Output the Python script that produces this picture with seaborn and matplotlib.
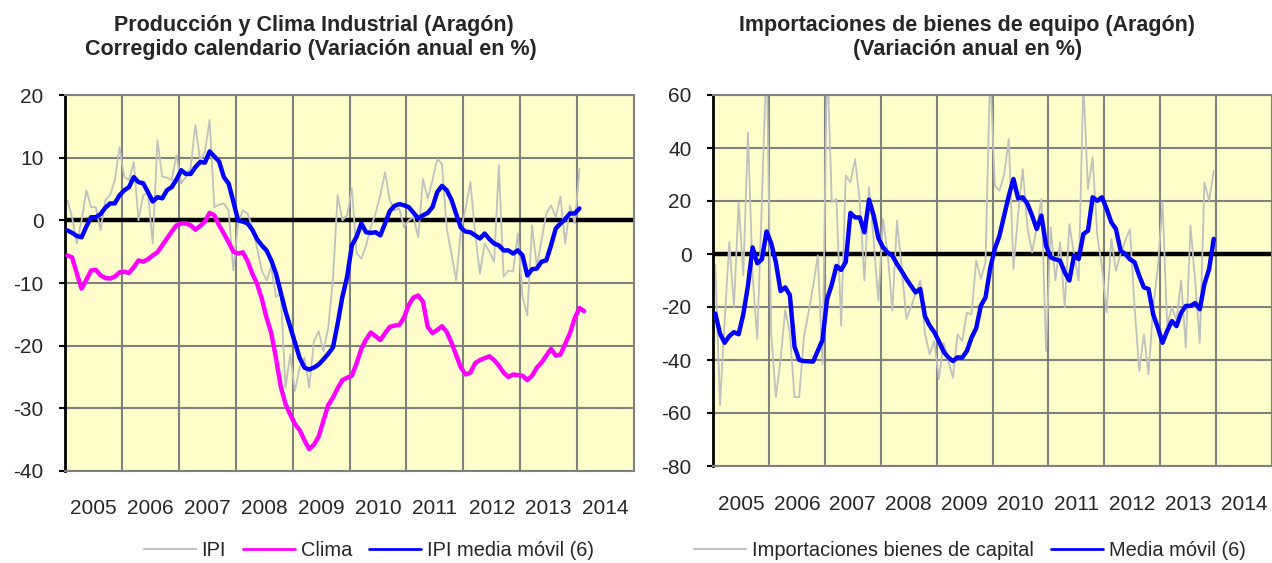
import numpy as np
import pandas as pd
import matplotlib
matplotlib.use("Agg")
import matplotlib.pyplot as plt
import seaborn as sns
from matplotlib.lines import Line2D

# ---------------- DATA ----------------
years = [2005, 2006, 2007, 2008, 2009, 2010, 2011, 2012, 2013, 2014]

ipi = [3.2, 0.5, -3.7, 0.0, 4.8, 2.1, 2.1, -1.6, 3.2, 4.0, 6.4, 11.7,
       6.9, 6.4, 9.3, 0.0, 4.0, 4.3, -3.7, 12.8, 7.0, 6.8, 6.4, 10.4,
       5.9, 6.9, 8.5, 15.2, 9.6, 10.9, 16.0, 2.1, 2.5, 2.7, 1.6, -8.0,
       -0.5, 1.6, 1.1, -1.0, -4.3, -8.0, -9.6, -7.4, -12.2, -11.7, -26.7, -21.4,
       -27.2, -23.5, -21.9, -26.7, -19.3, -17.7, -20.9, -17.2, -9.6, 4.0, 0.0, 0.8,
       5.1, -5.3, -6.1, -4.0, -1.1, 1.1, 4.0, 7.7, 3.2, 1.6, 1.9, -1.1,
       0.0, 0.5, -2.7, 6.6, 3.5, 6.4, 9.8, 9.0, -1.3, -5.3, -9.6, -1.6,
       2.0, 6.1, -2.1, -8.5, -3.7, -5.0, -6.6, 8.8, -9.0, -8.0, -8.2, -2.1,
       -12.2, -15.2, -0.8, -7.4, -3.2, 1.1, 2.4, 0.5, 3.8, -3.7, 2.4, -0.5,
       8.2]

clima = [-5.6, -5.9, -8.5, -10.9, -9.5, -8.0, -7.9, -8.8, -9.2, -9.3, -9.0, -8.3,
         -8.2, -8.4, -7.5, -6.4, -6.6, -6.2, -5.6, -5.1, -4.0, -2.9, -1.8, -0.8,
         -0.5, -0.5, -0.8, -1.5, -0.9, -0.2, 1.2, 0.8, -0.8, -2.1, -3.5, -5.0,
         -5.3, -5.1, -6.5, -8.5, -10.1, -12.5, -15.5, -18.0, -22.0, -26.5, -29.3, -31.0,
         -32.5, -33.5, -35.1, -36.5, -35.8, -34.5, -32.0, -29.5, -28.3, -26.8, -25.5, -25.1,
         -24.8, -22.8, -20.5, -19.0, -17.9, -18.5, -19.1, -18.0, -17.0, -16.8, -16.7, -15.5,
         -13.5, -12.3, -12.0, -13.0, -17.0, -18.0, -17.5, -16.9, -17.8, -19.5, -21.5, -23.5,
         -24.6, -24.3, -22.8, -22.3, -22.0, -21.7, -22.3, -23.2, -24.3, -25.0, -24.6, -24.7,
         -24.8, -25.5, -24.8, -23.5, -22.7, -21.6, -20.5, -21.6, -21.4, -19.7, -18.0, -15.6,
         -14.0, -14.5]

ipi_mm6 = [-1.6, -2.0, -2.5, -2.7, -1.0, 0.5, 0.5, 1.0, 2.0, 2.7, 2.7, 4.0,
           4.8, 5.3, 6.9, 6.1, 5.9, 4.5, 3.0, 3.7, 3.5, 4.8, 5.3, 6.5,
           8.0, 7.4, 7.4, 8.5, 9.3, 9.2, 11.0, 10.2, 9.4, 6.9, 5.9, 3.0,
           0.0, -0.2, -0.5, -1.5, -3.0, -4.0, -4.8, -6.4, -8.5, -11.5, -14.5, -17.0,
           -19.5, -22.0, -23.5, -23.8, -23.5, -23.0, -22.2, -21.3, -20.3, -16.5, -12.2, -9.0,
           -4.0, -2.6, -0.5, -1.9, -2.0, -1.9, -2.4, -0.5, 1.5, 2.3, 2.6, 2.4,
           2.1, 1.2, 0.3, 0.8, 1.2, 2.1, 4.5, 5.5, 4.8, 3.3, 1.0, -1.2,
           -1.8, -1.9, -2.4, -2.9, -2.1, -3.0, -3.7, -4.0, -4.8, -4.8, -5.3, -4.8,
           -5.6, -8.8, -7.8, -7.7, -6.6, -6.4, -4.0, -1.3, -0.5, 0.2, 1.1, 1.1,
           1.9]

imp = [-4.0, -57.0, -25.0, 4.4, -20.0, 19.5, -8.0, 45.9, -8.0, -32.0, 20.0, 75.0,
       -30.0, -54.0, -40.0, -21.0, -30.0, -54.0, -54.0, -31.6, -22.0, -12.0, -0.6, -41.6,
       75.0, 19.5, 20.8, -27.0, 29.6, 27.0, 35.8, 20.0, -10.0, 25.2, 5.0, -17.6,
       13.2, 0.0, -21.4, 12.6, -5.0, -24.5, -20.0, -15.0, -10.0, -30.0, -37.9, -32.8,
       -47.3, -33.5, -40.0, -46.7, -30.3, -32.8, -22.1, -22.8, -2.5, -9.4, -3.1, 70.0,
       25.8, 23.9, 30.0, 43.4, -5.7, 15.0, 32.0, 10.0, 0.6, 10.0, 20.8, -36.6,
       10.0, -10.0, 4.4, -20.1, 11.3, 0.0, -10.0, 65.0, 24.5, 36.5, 6.9, -5.0,
       -22.0, 5.7, -6.3, 0.0, 5.0, 9.4, -20.0, -44.2, -30.3, -45.4, -20.0, -5.0,
       19.5, -27.0, -20.0, -25.0, -10.0, -35.3, 10.7, -10.0, -33.5, 27.0, 20.1, 31.4]

imp_mm6 = [-22.5, -30.0, -33.5, -31.0, -29.5, -30.3, -22.8, -12.0, 2.5, -3.5, -2.0, 8.5,
           4.0, -3.1, -14.0, -12.6, -15.5, -35.0, -40.0, -40.4, -40.5, -40.6, -36.5, -32.5,
           -17.0, -11.5, -4.5, -6.0, -3.0, 15.5, 13.8, 13.8, 8.2, 20.5, 14.5, 6.0,
           2.5, 0.5, -0.6, -3.8, -6.5, -9.4, -12.0, -14.5, -13.2, -23.5, -27.0, -29.5,
           -33.0, -36.8, -39.0, -40.4, -39.0, -39.1, -36.6, -31.6, -28.0, -19.5, -16.4, -5.5,
           2.0, 6.9, 14.5, 22.0, 28.3, 21.0, 21.4, 18.9, 14.5, 9.4, 14.5, 3.1,
           -1.3, -2.0, -2.5, -6.9, -10.0, -0.6, -1.9, 7.5, 8.8, 21.4, 20.1, 21.4,
           17.0, 12.0, 9.4, 1.3, 0.0, -2.0, -3.1, -8.2, -12.6, -13.2, -22.8, -27.8,
           -33.5, -29.0, -25.3, -27.2, -22.1, -19.6, -19.6, -18.5, -20.8, -11.3, -5.7, 5.7]


def month_pos(n):
    # mid-month position in fractional years, starting January 2005
    return [years[0] + (m + 0.5) / 12.0 for m in range(n)]


df_left = pd.DataFrame({"t": month_pos(len(clima))})
df_left["IPI"] = pd.Series(ipi)
df_left["Clima"] = pd.Series(clima)
df_left["MM"] = pd.Series(ipi_mm6)

df_right = pd.DataFrame({"t": month_pos(len(imp)), "IMP": imp, "MM": imp_mm6})

# ---------------- STYLE ----------------
sns.set_theme(style="white")
plt.rcParams["font.family"] = ["Liberation Sans", "DejaVu Sans"]

BG = "#FFFFCC"
GRID = "#808080"
GRAY = "#C0C0C0"
BLUE = "#0000FF"
MAG = "#FF00FF"

fig = plt.figure(figsize=(12.72, 5.63), dpi=100)
ax1 = fig.add_axes([65 / 1272, 92 / 563, 569 / 1272, 376 / 563])
ax2 = fig.add_axes([713 / 1272, 97 / 563, 559 / 1272, 371 / 563])


def style_axes(ax, ylim, ystep, xpad):
    ax.set_facecolor(BG)
    ax.set_xlim(2005, 2015)
    ax.set_ylim(*ylim)
    ticks = np.arange(ylim[0], ylim[1] + 0.1, ystep)
    ax.set_yticks(ticks)
    ax.set_yticklabels([f"{int(v)}" for v in ticks])
    ax.set_xticks(years)
    ax.set_xticklabels([])
    ax.set_xticks([y + 0.5 for y in years], minor=True)
    ax.set_xticklabels([str(y) for y in years], minor=True)
    ax.tick_params(axis="x", which="both", length=0, labelsize=15, pad=xpad)
    ax.tick_params(axis="y", which="major", length=4.5, width=1.5, color="black",
                   labelsize=15, pad=11, left=True, direction="out")
    ax.grid(True, which="major", axis="both", color=GRID, linewidth=1.5)
    ax.set_axisbelow(True)
    for s in ["top", "right", "bottom"]:
        ax.spines[s].set_color(GRID)
        ax.spines[s].set_linewidth(1.5)
    ax.spines["left"].set_color("black")
    ax.spines["left"].set_linewidth(2)
    ax.axhline(0, color="black", linewidth=3.2, zorder=1.5)
    ax.set_xlabel("")
    ax.set_ylabel("")


# Left chart
sns.lineplot(data=df_left, x="t", y="IPI", ax=ax1, color=GRAY, linewidth=1.3, zorder=2)
sns.lineplot(data=df_left, x="t", y="Clima", ax=ax1, color=MAG, linewidth=3.2, zorder=3)
sns.lineplot(data=df_left, x="t", y="MM", ax=ax1, color=BLUE, linewidth=3.2, zorder=4)
style_axes(ax1, (-40, 20), 10, 20)

# Right chart
sns.lineplot(data=df_right, x="t", y="IMP", ax=ax2, color=GRAY, linewidth=1.3, zorder=2)
sns.lineplot(data=df_right, x="t", y="MM", ax=ax2, color=BLUE, linewidth=3.2, zorder=4)
style_axes(ax2, (-80, 60), 20, 21)

# Titles
fig.text(314 / 1272, 1 - 26 / 563, "Producción y Clima Industrial (Aragón)",
         ha="center", va="center", fontsize=15.5, fontweight="bold")
fig.text(311 / 1272, 1 - 49 / 563, "Corregido calendario (Variación anual en %)",
         ha="center", va="center", fontsize=15.5, fontweight="bold")
fig.text(967 / 1272, 1 - 26 / 563, "Importaciones de bienes de equipo (Aragón)",
         ha="center", va="center", fontsize=15.5, fontweight="bold")
fig.text(968 / 1272, 1 - 49 / 563, "(Variación anual en %)",
         ha="center", va="center", fontsize=15.5, fontweight="bold")

# Legends
h_left = [Line2D([], [], color=GRAY, lw=1.5),
          Line2D([], [], color=MAG, lw=2),
          Line2D([], [], color=BLUE, lw=2)]
fig.legend(h_left, ["IPI", "Clima", "IPI media móvil (6)"],
           loc="center", bbox_to_anchor=(369 / 1272, 1 - 550 / 563), ncol=3,
           frameon=False, fontsize=14.4, handlelength=2.6, handletextpad=0.3,
           columnspacing=0.85)
h_right = [Line2D([], [], color=GRAY, lw=1.5),
           Line2D([], [], color=BLUE, lw=2)]
fig.legend(h_right, ["Importaciones bienes de capital", "Media móvil (6)"],
           loc="center", bbox_to_anchor=(970 / 1272, 1 - 550 / 563), ncol=2,
           frameon=False, fontsize=14.4, handlelength=2.6, handletextpad=0.3,
           columnspacing=0.85)

fig.savefig("out.png", dpi=100)
